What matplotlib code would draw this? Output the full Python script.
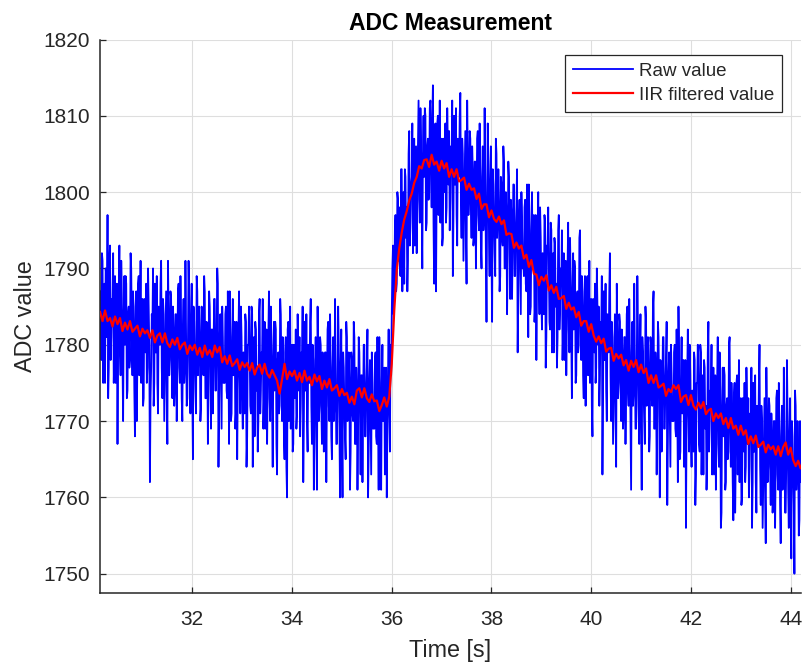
import numpy as np
import matplotlib
matplotlib.use("Agg")
import matplotlib.pyplot as plt

# ---------------- data ----------------
t_start = 30.15
t_end = 44.30

raw_value = [
    1787, 1779, 1778, 1792, 1791, 1775, 1782, 1788, 1775, 1790, 1789, 1781, 1797, 1773, 1777, 1791, 1793, 1778, 1781, 1786,
    1785, 1792, 1775, 1779, 1789, 1775, 1782, 1788, 1767, 1781, 1787, 1793, 1779, 1776, 1791, 1786, 1778, 1770, 1784, 1789,
    1780, 1789, 1788, 1773, 1774, 1784, 1785, 1777, 1778, 1792, 1790, 1781, 1776, 1787, 1783, 1774, 1768, 1785, 1787, 1770,
    1779, 1788, 1789, 1776, 1781, 1791, 1775, 1783, 1786, 1772, 1773, 1786, 1784, 1779, 1788, 1775, 1777, 1790, 1785, 1780,
    1762, 1773, 1777, 1784, 1782, 1790, 1772, 1775, 1788, 1779, 1779, 1789, 1775, 1771, 1785, 1782, 1780, 1788, 1791, 1777,
    1773, 1786, 1784, 1770, 1776, 1783, 1787, 1774, 1767, 1791, 1783, 1776, 1778, 1787, 1786, 1778, 1773, 1785, 1782, 1772,
    1774, 1784, 1784, 1770, 1779, 1787, 1788, 1777, 1775, 1789, 1782, 1773, 1770, 1782, 1786, 1775, 1777, 1791, 1781, 1772,
    1773, 1780, 1791, 1786, 1776, 1771, 1783, 1788, 1774, 1765, 1785, 1783, 1778, 1774, 1771, 1789, 1787, 1776, 1779, 1785,
    1781, 1770, 1772, 1785, 1784, 1777, 1776, 1789, 1787, 1773, 1773, 1783, 1780, 1767, 1775, 1787, 1785, 1778, 1769, 1782,
    1782, 1771, 1778, 1786, 1786, 1774, 1774, 1780, 1790, 1788, 1764, 1772, 1781, 1784, 1777, 1769, 1785, 1781, 1775, 1776,
    1775, 1784, 1785, 1774, 1773, 1787, 1778, 1767, 1787, 1781, 1770, 1771, 1781, 1786, 1776, 1779, 1783, 1769, 1771, 1783,
    1765, 1775, 1781, 1787, 1776, 1771, 1785, 1781, 1773, 1769, 1779, 1776, 1771, 1784, 1783, 1764, 1768, 1780, 1780, 1785,
    1780, 1772, 1771, 1785, 1784, 1764, 1775, 1781, 1768, 1783, 1782, 1774, 1777, 1766, 1770, 1784, 1786, 1771, 1774, 1779,
    1779, 1786, 1769, 1773, 1783, 1769, 1776, 1782, 1767, 1775, 1781, 1787, 1773, 1770, 1785, 1780, 1772, 1764, 1778, 1783,
    1774, 1783, 1782, 1767, 1763, 1778, 1779, 1771, 1772, 1786, 1784, 1775, 1770, 1781, 1777, 1768, 1765, 1779, 1781, 1764,
    1760, 1782, 1783, 1770, 1775, 1785, 1769, 1777, 1780, 1766, 1767, 1780, 1778, 1773, 1782, 1769, 1771, 1784, 1779, 1774,
    1781, 1768, 1772, 1779, 1777, 1785, 1762, 1770, 1783, 1774, 1774, 1784, 1770, 1766, 1780, 1777, 1775, 1783, 1786, 1772,
    1767, 1780, 1778, 1761, 1770, 1777, 1781, 1768, 1761, 1785, 1777, 1770, 1772, 1781, 1780, 1772, 1767, 1779, 1776, 1766,
    1769, 1779, 1779, 1762, 1774, 1782, 1783, 1772, 1770, 1784, 1777, 1768, 1765, 1777, 1781, 1770, 1772, 1786, 1776, 1767,
    1767, 1774, 1785, 1780, 1770, 1760, 1777, 1782, 1768, 1760, 1779, 1777, 1772, 1768, 1765, 1783, 1781, 1770, 1773, 1779,
    1775, 1761, 1766, 1779, 1778, 1771, 1770, 1783, 1781, 1767, 1767, 1777, 1774, 1761, 1769, 1781, 1779, 1772, 1763, 1776,
    1776, 1762, 1772, 1780, 1780, 1768, 1768, 1774, 1777, 1782, 1760, 1766, 1775, 1778, 1771, 1763, 1779, 1775, 1769, 1770,
    1769, 1778, 1779, 1768, 1767, 1781, 1772, 1761, 1781, 1775, 1764, 1761, 1775, 1780, 1770, 1773, 1777, 1763, 1765, 1777,
    1760, 1770, 1776, 1782, 1771, 1766, 1780, 1776, 1784, 1790, 1793, 1784, 1786, 1795, 1797, 1787, 1788, 1800, 1799, 1791,
    1798, 1790, 1789, 1803, 1803, 1787, 1794, 1800, 1788, 1803, 1802, 1794, 1798, 1787, 1791, 1805, 1808, 1793, 1796, 1801,
    1802, 1809, 1792, 1796, 1807, 1793, 1800, 1806, 1792, 1800, 1806, 1812, 1799, 1796, 1811, 1806, 1798, 1790, 1805, 1810,
    1802, 1811, 1810, 1795, 1796, 1806, 1807, 1799, 1800, 1811, 1812, 1803, 1798, 1809, 1814, 1796, 1788, 1807, 1809, 1787,
    1800, 1809, 1810, 1797, 1802, 1812, 1796, 1804, 1807, 1793, 1794, 1807, 1805, 1800, 1809, 1796, 1798, 1811, 1806, 1801,
    1808, 1795, 1799, 1806, 1804, 1812, 1789, 1797, 1810, 1801, 1801, 1811, 1797, 1793, 1807, 1804, 1802, 1810, 1813, 1799,
    1794, 1807, 1805, 1791, 1797, 1804, 1808, 1795, 1788, 1812, 1804, 1797, 1799, 1808, 1807, 1799, 1794, 1806, 1803, 1793,
    1794, 1804, 1804, 1790, 1799, 1807, 1808, 1797, 1795, 1809, 1802, 1793, 1790, 1802, 1806, 1795, 1797, 1811, 1801, 1792,
    1783, 1798, 1809, 1804, 1794, 1789, 1801, 1806, 1792, 1783, 1803, 1801, 1796, 1792, 1789, 1807, 1805, 1794, 1797, 1803,
    1798, 1787, 1789, 1802, 1801, 1794, 1793, 1806, 1804, 1790, 1790, 1800, 1797, 1784, 1792, 1804, 1802, 1795, 1786, 1799,
    1797, 1786, 1793, 1801, 1801, 1789, 1789, 1795, 1798, 1803, 1779, 1787, 1796, 1799, 1792, 1784, 1800, 1796, 1790, 1791,
    1789, 1798, 1799, 1788, 1787, 1801, 1792, 1781, 1801, 1795, 1784, 1785, 1795, 1800, 1790, 1793, 1797, 1783, 1785, 1797,
    1778, 1788, 1794, 1800, 1789, 1784, 1798, 1794, 1786, 1782, 1792, 1789, 1784, 1797, 1796, 1777, 1781, 1793, 1793, 1798,
    1791, 1783, 1782, 1796, 1795, 1779, 1786, 1792, 1779, 1794, 1793, 1785, 1788, 1777, 1781, 1795, 1797, 1782, 1785, 1790,
    1788, 1795, 1778, 1782, 1792, 1778, 1785, 1791, 1776, 1784, 1790, 1796, 1782, 1779, 1794, 1789, 1781, 1773, 1787, 1792,
    1782, 1791, 1790, 1775, 1776, 1786, 1787, 1779, 1780, 1794, 1795, 1783, 1778, 1789, 1785, 1776, 1773, 1787, 1789, 1772,
    1779, 1788, 1789, 1776, 1781, 1791, 1775, 1783, 1786, 1772, 1768, 1786, 1784, 1779, 1788, 1775, 1777, 1790, 1785, 1780,
    1785, 1772, 1776, 1783, 1781, 1789, 1763, 1774, 1787, 1778, 1778, 1788, 1774, 1770, 1784, 1781, 1779, 1787, 1792, 1776,
    1770, 1783, 1781, 1767, 1773, 1780, 1784, 1771, 1764, 1788, 1780, 1773, 1775, 1784, 1783, 1775, 1770, 1782, 1779, 1769,
    1771, 1781, 1781, 1767, 1776, 1784, 1785, 1774, 1772, 1786, 1779, 1770, 1761, 1779, 1783, 1772, 1774, 1788, 1778, 1769,
    1769, 1776, 1789, 1782, 1772, 1767, 1779, 1784, 1770, 1761, 1781, 1779, 1774, 1770, 1767, 1785, 1783, 1772, 1775, 1781,
    1777, 1766, 1768, 1781, 1780, 1773, 1772, 1785, 1787, 1769, 1769, 1779, 1776, 1763, 1771, 1783, 1781, 1774, 1760, 1778,
    1777, 1766, 1773, 1781, 1781, 1769, 1769, 1775, 1778, 1783, 1759, 1767, 1776, 1779, 1772, 1764, 1780, 1776, 1770, 1771,
    1770, 1779, 1780, 1769, 1768, 1782, 1773, 1762, 1785, 1776, 1765, 1766, 1776, 1781, 1771, 1774, 1778, 1764, 1766, 1778,
    1756, 1770, 1776, 1782, 1771, 1766, 1780, 1776, 1768, 1764, 1774, 1771, 1766, 1779, 1778, 1759, 1763, 1775, 1775, 1780,
    1775, 1767, 1766, 1780, 1779, 1763, 1770, 1776, 1763, 1778, 1777, 1769, 1772, 1761, 1765, 1779, 1783, 1766, 1769, 1774,
    1773, 1780, 1763, 1767, 1777, 1763, 1770, 1776, 1761, 1769, 1775, 1781, 1767, 1764, 1779, 1774, 1756, 1758, 1772, 1777,
    1768, 1777, 1776, 1761, 1762, 1772, 1773, 1765, 1766, 1780, 1781, 1769, 1764, 1775, 1771, 1762, 1757, 1773, 1775, 1758,
    1766, 1775, 1776, 1763, 1768, 1778, 1762, 1770, 1773, 1759, 1760, 1773, 1771, 1766, 1775, 1762, 1764, 1777, 1772, 1767,
    1773, 1760, 1764, 1771, 1769, 1777, 1756, 1762, 1775, 1766, 1766, 1776, 1762, 1758, 1772, 1769, 1767, 1775, 1780, 1764,
    1759, 1772, 1770, 1756, 1762, 1769, 1773, 1760, 1754, 1777, 1769, 1762, 1764, 1773, 1772, 1764, 1759, 1771, 1768, 1758,
    1760, 1770, 1770, 1756, 1765, 1773, 1774, 1763, 1761, 1775, 1768, 1759, 1754, 1768, 1772, 1761, 1763, 1777, 1767, 1758,
    1758, 1765, 1778, 1771, 1761, 1756, 1768, 1773, 1759, 1752, 1770, 1768, 1763, 1759, 1750, 1774, 1772, 1761, 1764, 1770,
    1766, 1755, 1757, 1770, 1769, 1762, 1761, 1774, 1776, 1758, 1758, 1768, 1765,
]

iir_value = [
    1784.3, 1783.1, 1784.5, 1783.1, 1783.5, 1782.4, 1783.7, 1782.7, 1783.5, 1781.8,
    1782.9, 1782.0, 1783.1, 1781.7, 1782.1, 1782.5, 1781.1, 1782.1, 1781.5, 1781.9,
    1780.9, 1781.9, 1780.3, 1781.2, 1781.5, 1780.3, 1781.5, 1780.2, 1779.7, 1780.7,
    1780.0, 1780.9, 1779.4, 1780.0, 1780.3, 1778.8, 1779.9, 1779.3, 1780.0, 1778.7,
    1779.6, 1778.4, 1779.9, 1778.7, 1779.3, 1778.4, 1779.9, 1779.0, 1779.7, 1777.7,
    1778.5, 1777.5, 1778.6, 1777.2, 1777.6, 1778.1, 1776.7, 1777.7, 1777.1, 1777.6,
    1776.6, 1777.6, 1776.1, 1777.0, 1777.4, 1776.2, 1777.5, 1776.2, 1775.7, 1776.7,
    1776.0, 1775.3, 1773.6, 1775.5, 1777.5, 1775.5, 1776.5, 1775.9, 1776.6, 1775.3,
    1776.3, 1775.1, 1776.6, 1775.3, 1775.8, 1774.7, 1776.1, 1775.2, 1775.9, 1774.2,
    1775.3, 1774.4, 1775.5, 1774.0, 1774.3, 1774.7, 1773.3, 1774.2, 1773.4, 1773.7,
    1772.4, 1773.2, 1772.2, 1774.0, 1774.3, 1773.1, 1774.3, 1773.0, 1772.5, 1773.5,
    1772.6, 1772.7, 1771.3, 1772.1, 1773.1, 1771.9, 1773.2,
    1777.5, 1784.5, 1789.8, 1792.6, 1794.7, 1796.4, 1797.5, 1798.9, 1799.8, 1801.2,
    1802.0, 1803.4, 1803.1, 1804.2,
    1804.3, 1803.3, 1804.9, 1803.6, 1804.0, 1802.8, 1804.1, 1803.1, 1803.8, 1802.0,
    1803.0, 1802.0, 1803.0, 1801.4, 1801.6, 1801.9, 1800.3, 1801.1, 1800.3, 1800.5,
    1799.1, 1799.8, 1797.8, 1798.4, 1798.4, 1796.7, 1797.6, 1796.5, 1796.1, 1796.8,
    1795.8, 1796.3, 1794.4, 1794.6, 1794.5, 1792.7, 1793.4, 1792.6, 1793.0, 1791.3,
    1791.8, 1790.2, 1791.1, 1789.3, 1789.2, 1787.8, 1788.9, 1788.4, 1789.1, 1787.1,
    1787.8, 1786.8, 1787.6, 1786.0, 1786.1, 1786.4, 1784.7, 1785.5, 1784.6, 1784.9,
    1783.6, 1784.3, 1782.5, 1783.1, 1783.1, 1781.7, 1782.7, 1781.2, 1780.4, 1781.1,
    1780.2, 1780.8, 1779.1, 1779.5, 1779.6, 1777.9, 1778.8, 1778.2, 1778.7, 1777.3,
    1778.0, 1776.6, 1777.9, 1777.1, 1778.0, 1776.4, 1777.4, 1776.3, 1776.9, 1775.0,
    1776.0, 1775.0, 1776.0, 1774.4, 1774.6, 1774.9, 1773.3, 1774.2, 1773.8, 1774.7,
    1774.2, 1774.7, 1772.5, 1773.2, 1773.4, 1772.1, 1773.4, 1772.0, 1771.5, 1772.4,
    1771.7, 1772.5, 1770.9, 1771.4, 1771.6, 1770.0, 1771.0, 1770.4, 1771.0, 1769.6,
    1770.4, 1769.1, 1770.4, 1769.0, 1769.4, 1768.2, 1769.4, 1768.2, 1768.8, 1767.0,
    1768.0, 1767.1, 1768.1, 1766.6, 1766.9, 1767.3, 1765.9, 1766.9, 1766.3, 1766.7,
    1765.6, 1766.7, 1765.4, 1766.6, 1767.2, 1765.6, 1766.5, 1764.9, 1764.1, 1764.8,
    1763.8, 1764.5, 1762.8,
]

x_ticks = [32, 34, 36, 38, 40, 42, 44]
y_ticks = [1750, 1760, 1770, 1780, 1790, 1800, 1810, 1820]
series_labels = ["Raw value", "IIR filtered value"]

# ---------------- figure ----------------
plt.rcParams['font.family'] = ['Liberation Sans', 'DejaVu Sans']
txt = '#262626'

fig = plt.figure(figsize=(8.03, 6.63), dpi=100)
ax = fig.add_axes([100 / 803, 70 / 663, 701 / 803, 553.5 / 663])

t_raw = np.linspace(t_start, t_end, len(raw_value))
t_iir = np.linspace(t_start, t_end, len(iir_value))

ax.plot(t_raw, raw_value, color=(0, 0, 1), lw=1.3, label=series_labels[0], zorder=2)
ax.plot(t_iir, iir_value, color=(1, 0, 0), lw=1.6, label=series_labels[1], zorder=3)

ax.set_xlim(30.149, 44.207)
ax.set_ylim(1747.47, 1820)
ax.set_xticks(x_ticks)
ax.set_yticks(y_ticks)

ax.grid(True, color='#dedede', lw=0.8)
ax.set_axisbelow(True)

for s in ['top', 'right']:
    ax.spines[s].set_visible(False)
for s in ['left', 'bottom']:
    ax.spines[s].set_color(txt)
    ax.spines[s].set_linewidth(1.1)

ax.tick_params(axis='both', direction='in', length=4.3, width=0.9, color=txt,
               labelcolor=txt, labelsize=15)
ax.tick_params(axis='x', pad=12.5)
ax.tick_params(axis='y', pad=7.0)

ax.set_xlabel('Time [s]', fontsize=16.8, color=txt, labelpad=7)
ax.set_ylabel('ADC value', fontsize=16.8, color=txt, labelpad=5)
ax.set_title('ADC Measurement', fontsize=16.5, fontweight='bold', color='black', pad=6.5)

leg = ax.legend(loc='upper right', bbox_to_anchor=(0.9725, 0.972), borderaxespad=0,
                fontsize=13.5, frameon=True, fancybox=False, framealpha=1,
                edgecolor=txt, handlelength=3.2, handletextpad=0.34,
                borderpad=0.4, labelspacing=0.39)
leg.get_frame().set_linewidth(0.9)
for tx in leg.get_texts():
    tx.set_color(txt)

fig.savefig('out.png', dpi=100)
